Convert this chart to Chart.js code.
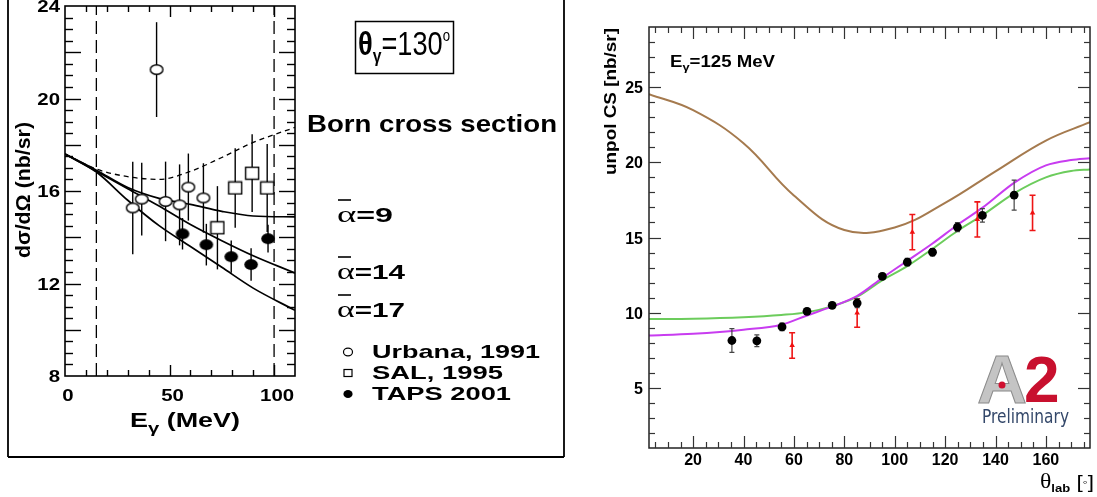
<!DOCTYPE html>
<html><head><meta charset="utf-8">
<script src="https://cdn.jsdelivr.net/npm/chart.js@4.4.1/dist/chart.umd.min.js"></script>
<style>
html,body{margin:0;padding:0;background:#fff;overflow:hidden;width:1097px;height:497px}
canvas{position:absolute;top:0}
</style></head><body>
<canvas id="left" width="575" height="497" style="left:0"></canvas>
<canvas id="right" width="522" height="497" style="left:575px"></canvas>
<script>
// ---------- LEFT PANEL DATA (Eγ in MeV, dσ/dΩ in nb/sr) ----------
const urbanaEnergy = [32.4, 36.7, 43.8, 48.1, 54.8, 59.0, 66.2];
const urbanaCS     = [15.27, 15.65, 21.25, 15.55, 15.4, 16.17, 15.7];
const urbanaErr    = [2.0, 1.57, 2.05, 1.72, 1.75, 1.45, 1.5];
const salEnergy    = [72.9, 81.4, 89.5, 96.7];
const salCS        = [14.41, 16.13, 16.77, 16.13];
const salErr       = [1.8, 1.72, 1.68, 1.9];
const tapsEnergy   = [56.2, 67.6, 79.5, 89.0, 97.1];
const tapsCS       = [14.15, 13.68, 13.16, 12.82, 13.94];
const tapsErr      = [0.68, 0.9, 0.7, 0.7, 0.6];
const curveEnergy  = [0, 15, 30, 45, 60, 75, 90, 110];
const bornCS       = [17.6, 16.95, 16.62, 16.5, 16.85, 17.45, 18.1, 18.75];
const alpha9CS     = [17.6, 16.9, 16.15, 15.68, 15.42, 15.12, 14.92, 14.88];
const alpha14CS    = [17.6, 16.85, 16.1, 15.35, 14.55, 13.85, 13.2, 12.45];
const alpha17CS    = [17.6, 16.82, 15.6, 14.5, 13.6, 12.7, 11.8, 10.84];
const cutEnergies  = [15, 100];
const leftYTickLabels = [8, 12, 16, 20, 24];
const leftXTickLabels = [0, 50, 100];

// ---------- RIGHT PANEL DATA (θlab in deg, CS in nb/sr) ----------
const blackTheta = [35.4, 45.3, 55.3, 65.2, 75.2, 85.1, 95.1, 105, 115, 124.9, 134.8, 147.4];
const blackCS    = [8.15, 8.13, 9.05, 10.09, 10.49, 10.64, 12.42, 13.36, 14.02, 15.69, 16.47, 17.82];
const blackErr   = [0.79, 0.39, 0.25, 0.2, 0.2, 0.3, 0.2, 0.25, 0.25, 0.3, 0.45, 1.0];
const redTheta   = [59.3, 85.1, 107, 132.8, 154.7];
const redCS      = [7.82, 9.98, 15.36, 16.2, 16.64];
const redErr     = [0.85, 0.95, 1.17, 1.17, 1.17];
const brownTheta = [2.5, 20, 40, 60, 80, 100, 120, 140, 160, 177.5];
const brownCS    = [24.53, 23.47, 21.27, 17.8, 15.5, 15.67, 17.3, 19.4, 21.45, 22.67];
const fitTheta   = [2.5, 20, 40, 55, 65, 75, 85, 95, 105, 115, 125, 135, 147.5, 160, 170, 177.5];
const magentaCS  = [8.48, 8.6, 8.87, 9.2, 9.8, 10.4, 11.1, 12.3, 13.45, 14.6, 15.85, 17.0, 18.65, 19.8, 20.15, 20.27];
const greenCS    = [9.58, 9.6, 9.7, 9.85, 10.02, 10.42, 11.05, 12.15, 13.1, 14.25, 15.45, 16.5, 17.95, 19.0, 19.42, 19.53];
const rightXTickLabels = [20, 40, 60, 80, 100, 120, 140, 160];
const rightYTickLabels = [5, 10, 15, 20, 25];

const FONT = 'Liberation Sans';
const pts = (xs, ys) => xs.map((x, i) => ({x, y: ys[i]}));

function markerCanvas(w, h, draw) {
  const c = document.createElement('canvas'); c.width = w; c.height = h;
  draw(c.getContext('2d'), w, h); return c;
}
const openEllipse = markerCanvas(16, 13, (g, w, h) => {
  g.beginPath(); g.ellipse(w/2, h/2, 6.3, 4.8, 0, 0, Math.PI*2);
  g.fillStyle = '#fff'; g.fill(); g.lineWidth = 1.4; g.strokeStyle = '#000'; g.stroke();
});
const openSquare = markerCanvas(16, 15, (g, w, h) => {
  g.fillStyle = '#fff'; g.fillRect(1, 1, 14, 13);
  g.lineWidth = 1.4; g.strokeStyle = '#000'; g.strokeRect(1.5, 1.5, 13, 12);
});
const filledEllipse = markerCanvas(16, 13, (g, w, h) => {
  g.beginPath(); g.ellipse(w/2, h/2, 6.8, 5.4, 0, 0, Math.PI*2);
  g.fillStyle = '#000'; g.fill();
});

function rich(ctx, segs, x, y, opts = {}) {
  let total = 0;
  const ws = segs.map(s => { ctx.font = s[1]; const w = ctx.measureText(s[0]).width; total += w; return w; });
  const sx = opts.width ? opts.width / total : (opts.sx || 1);
  const drawn = total * sx;
  let start = x;
  if (opts.align === 'center') start = x - drawn / 2;
  else if (opts.align === 'right') start = x - drawn;
  ctx.save(); ctx.translate(start, y); ctx.scale(sx, 1);
  ctx.textAlign = 'left'; ctx.textBaseline = opts.baseline || 'alphabetic';
  let cx = 0;
  segs.forEach((s, i) => { ctx.font = s[1]; ctx.fillStyle = s[3] || opts.color || '#000'; ctx.fillText(s[0], cx, s[2] || 0); cx += ws[i]; });
  ctx.restore();
}
function line(ctx, x1, y1, x2, y2) { ctx.beginPath(); ctx.moveTo(x1, y1); ctx.lineTo(x2, y2); ctx.stroke(); }

const errorBars = {
  id: 'errorBars',
  beforeDatasetDraw(chart, args) {
    const ds = chart.data.datasets[args.index];
    if (!ds.errors) return;
    const {ctx, chartArea: a, scales: {x, y}} = chart;
    ctx.save(); ctx.beginPath(); ctx.rect(a.left, a.top, a.right - a.left, a.bottom - a.top); ctx.clip();
    ctx.strokeStyle = ds.errorColor; ctx.lineWidth = ds.errorWidth;
    ds.data.forEach((p, i) => {
      const px = x.getPixelForValue(p.x);
      const y1 = y.getPixelForValue(p.y + ds.errors[i]);
      const y2 = y.getPixelForValue(p.y - ds.errors[i]);
      ctx.beginPath(); ctx.moveTo(px, y1); ctx.lineTo(px, y2);
      if (ds.errorCap) {
        ctx.moveTo(px - ds.errorCap, y1); ctx.lineTo(px + ds.errorCap, y1);
        ctx.moveTo(px - ds.errorCap, y2); ctx.lineTo(px + ds.errorCap, y2);
      }
      ctx.stroke();
    });
    ctx.restore();
  }
};

// ---------- LEFT DECORATION ----------
const leftDecor = {
  id: 'leftDecor',
  afterDraw(chart) {
    const {ctx, chartArea: a, scales: {x, y}} = chart;
    ctx.save();
    ctx.strokeStyle = '#000'; ctx.lineWidth = 1.6;
    ctx.strokeRect(a.left, a.top, a.right - a.left, a.bottom - a.top);
    ctx.lineWidth = 1.4;
    for (let v = 10; v < 110; v += 10) {
      const px = Math.round(x.getPixelForValue(v)) + 0.5;
      const len = v % 50 === 0 ? 11 : 6;
      line(ctx, px, a.bottom, px, a.bottom - len);
      line(ctx, px, a.top, px, a.top + len);
    }
    for (let v = 8.5; v < 24; v += 0.5) {
      const py = Math.round(y.getPixelForValue(v)) + 0.5;
      const len = v % 2 === 0 ? 16 : 8;
      line(ctx, a.left, py, a.left + len, py);
      line(ctx, a.right, py, a.right - len, py);
    }
    leftYTickLabels.forEach(v => {
      rich(ctx, [[String(v), 'bold 17px ' + FONT]], a.left - 5, y.getPixelForValue(v) + 6, {align: 'right', sx: 1.2});
    });
    leftXTickLabels.forEach(v => {
      rich(ctx, [[String(v), 'bold 17px ' + FONT]], x.getPixelForValue(v) + 3, a.bottom + 25, {align: 'center', sx: 1.2});
    });
    rich(ctx, [['E', 'bold 20px ' + FONT], ['γ', 'bold 15px ' + FONT, 6], [' (MeV)', 'bold 20px ' + FONT]], 130, 427, {width: 110});
    ctx.save(); ctx.translate(30, 190); ctx.rotate(-Math.PI / 2);
    rich(ctx, [['dσ/dΩ (nb/sr)', 'bold 21px ' + FONT]], 0, 0, {align: 'center', width: 136});
    ctx.restore();
    ctx.lineWidth = 1.5;
    ctx.strokeRect(355.5, 21.5, 98, 52);
    rich(ctx, [['θ', 'bold 33px ' + FONT], ['γ', 'bold 19px ' + FONT, 7], ['=130', '33px ' + FONT], ['o', '16px ' + FONT, -14]], 358, 55, {width: 92});
    rich(ctx, [['Born cross section', 'bold 24px ' + FONT]], 307, 132, {width: 250});
    const alphas = [['=9', 222, 56], ['=14', 279, 68], ['=17', 317, 68]];
    alphas.forEach(([t, by, w]) => {
      rich(ctx, [['α', '24px Liberation Serif'], [t, 'bold 21px ' + FONT]], 337, by, {width: w});
      ctx.lineWidth = 1.6; line(ctx, 338, by - 22, 351, by - 22);
    });
    const leg = [['Urbana, 1991', 358, 168], ['SAL, 1995', 379, 131], ['TAPS 2001', 400, 139]];
    leg.forEach(([t, by, w]) => rich(ctx, [[t, 'bold 19px ' + FONT]], 372, by, {width: w}));
    ctx.lineWidth = 1.2;
    ctx.beginPath(); ctx.ellipse(348, 352, 4.5, 3.8, 0, 0, Math.PI * 2); ctx.stroke();
    ctx.strokeRect(344, 369.5, 8, 7);
    ctx.beginPath(); ctx.ellipse(348, 394, 4.6, 4, 0, 0, Math.PI * 2); ctx.fillStyle = '#000'; ctx.fill();
    ctx.lineWidth = 1.8;
    line(ctx, 8, 0, 8, 457); line(ctx, 8, 457, 564, 457); line(ctx, 564, 0, 564, 457);
    ctx.restore();
  }
};

const cutDatasets = cutEnergies.map(e => ({
  data: pts([e, e], [8, 24]), showLine: true, borderColor: '#000', borderWidth: 1.3,
  borderDash: [13, 6], pointRadius: 0
}));
const curve = (ys, dash) => ({
  data: pts(curveEnergy, ys), showLine: true, borderColor: '#000', borderWidth: dash ? 1.3 : 1.7,
  borderDash: dash || [], pointRadius: 0, cubicInterpolationMode: 'monotone'
});

new Chart(document.getElementById('left'), {
  type: 'scatter',
  data: {datasets: [
    {label: 'TAPS 2001', data: pts(tapsEnergy, tapsCS), errors: tapsErr, errorColor: '#000', errorWidth: 1.4, pointStyle: filledEllipse, pointRadius: 5},
    {label: 'SAL, 1995', data: pts(salEnergy, salCS), errors: salErr, errorColor: '#000', errorWidth: 1.4, pointStyle: openSquare, pointRadius: 5},
    {label: 'Urbana, 1991', data: pts(urbanaEnergy, urbanaCS), errors: urbanaErr, errorColor: '#000', errorWidth: 1.4, pointStyle: openEllipse, pointRadius: 5},
    curve(alpha9CS), curve(alpha14CS), curve(alpha17CS), curve(bornCS, [5, 4]),
    ...cutDatasets
  ]},
  options: {
    responsive: false, animation: false, events: [],
    layout: {padding: {left: 65, top: 4, right: 575 - 295, bottom: 497 - 376}},
    scales: {x: {type: 'linear', min: 0, max: 110, display: false}, y: {type: 'linear', min: 8, max: 24, display: false}},
    plugins: {legend: {display: false}, tooltip: {enabled: false}}
  },
  plugins: [errorBars, leftDecor]
});

// ---------- RIGHT DECORATION ----------
const OX = 575;
const rightDecor = {
  id: 'rightDecor',
  afterDraw(chart) {
    const {ctx, chartArea: a, scales: {x, y}} = chart;
    ctx.save();
    ctx.strokeStyle = '#222'; ctx.lineWidth = 1.5;
    ctx.strokeRect(a.left, a.top, a.right - a.left, a.bottom - a.top);
    ctx.lineWidth = 1.2; ctx.strokeStyle = '#333';
    for (let v = 5; v <= 175; v += 5) {
      const px = Math.round(x.getPixelForValue(v)) + 0.5;
      const len = v % 20 === 0 ? 12 : 6;
      line(ctx, px, a.bottom, px, a.bottom - len);
      line(ctx, px, a.top, px, a.top + len);
    }
    for (let v = 2; v <= 28; v += 1) {
      const py = Math.round(y.getPixelForValue(v)) + 0.5;
      const len = v % 5 === 0 ? 12 : 6;
      line(ctx, a.left, py, a.left + len, py);
      line(ctx, a.right, py, a.right - len, py);
    }
    rightYTickLabels.forEach(v => rich(ctx, [[String(v), 'bold 16px ' + FONT]], a.left - 6, y.getPixelForValue(v) + 6, {align: 'right'}));
    rightXTickLabels.forEach(v => rich(ctx, [[String(v), 'bold 16px ' + FONT]], x.getPixelForValue(v), 465, {align: 'center'}));
    ctx.translate(-OX, 0);
    rich(ctx, [['E', 'bold 16px ' + FONT], ['γ', 'bold 11px ' + FONT, 4], ['=125 MeV', 'bold 16px ' + FONT]], 670, 67, {width: 105});
    ctx.save(); ctx.translate(616, 28); ctx.rotate(-Math.PI / 2);
    rich(ctx, [['unpol CS [nb/sr]', 'bold 16px ' + FONT]], 0, 0, {align: 'right', width: 147});
    ctx.restore();
    rich(ctx, [['θ', '20px Liberation Serif'], ['lab', 'bold 11px ' + FONT, 4], [' [', '19px ' + FONT], ['◦', '12px ' + FONT, -2], [']', '19px ' + FONT]], 1094, 488, {align: 'right', width: 54});
    ctx.font = 'bold 68px ' + FONT; ctx.textAlign = 'left'; ctx.textBaseline = 'alphabetic';
    ctx.save(); ctx.translate(977, 403); ctx.scale(1.02, 1);
    ctx.fillStyle = '#c4c4c4'; ctx.fillText('A', 0, 0);
    ctx.lineWidth = 1; ctx.strokeStyle = '#8c8c8c'; ctx.strokeText('A', 0, 0);
    ctx.restore();
    ctx.fillStyle = '#d01030'; ctx.beginPath(); ctx.arc(1002, 385, 3.5, 0, Math.PI * 2); ctx.fill();
    ctx.font = 'bold 64px ' + FONT; ctx.fillStyle = '#c8102e'; ctx.fillText('2', 1024, 402);
    rich(ctx, [['Preliminary', '19px DejaVu Sans']], 982, 423, {width: 87, color: '#34486a'});
    ctx.restore();
  }
};

const fitCurve = (xs, ys, color, smooth) => ({
  data: pts(xs, ys), showLine: true, borderColor: color, borderWidth: 2,
  pointRadius: 0, ...(smooth ? {tension: 0.4} : {cubicInterpolationMode: 'monotone'})
});

new Chart(document.getElementById('right'), {
  type: 'scatter',
  data: {datasets: [
    {label: 'data', data: pts(blackTheta, blackCS), errors: blackErr, errorColor: '#444', errorWidth: 1.2, errorCap: 2.5,
     pointStyle: 'circle', pointRadius: 4.4, backgroundColor: '#000', borderColor: '#000', borderWidth: 0},
    {label: 'old', data: pts(redTheta, redCS), errors: redErr, errorColor: '#ee1515', errorWidth: 1.6, errorCap: 3,
     pointStyle: 'triangle', pointRadius: 3.2, backgroundColor: '#f01010', borderColor: '#f01010', borderWidth: 0},
    fitCurve(fitTheta, magentaCS, '#c83cf0'),
    fitCurve(fitTheta, greenCS, '#6ccc5c'),
    fitCurve(brownTheta, brownCS, '#a57a4e', true)
  ]},
  options: {
    responsive: false, animation: false, events: [],
    layout: {padding: {left: 649 - OX, top: 27, right: 522 - (1090 - OX), bottom: 497 - 448}},
    scales: {x: {type: 'linear', min: 2.5, max: 177.5, display: false}, y: {type: 'linear', min: 1, max: 29, display: false}},
    plugins: {legend: {display: false}, tooltip: {enabled: false}}
  },
  plugins: [errorBars, rightDecor]
});
</script>
</body></html>
